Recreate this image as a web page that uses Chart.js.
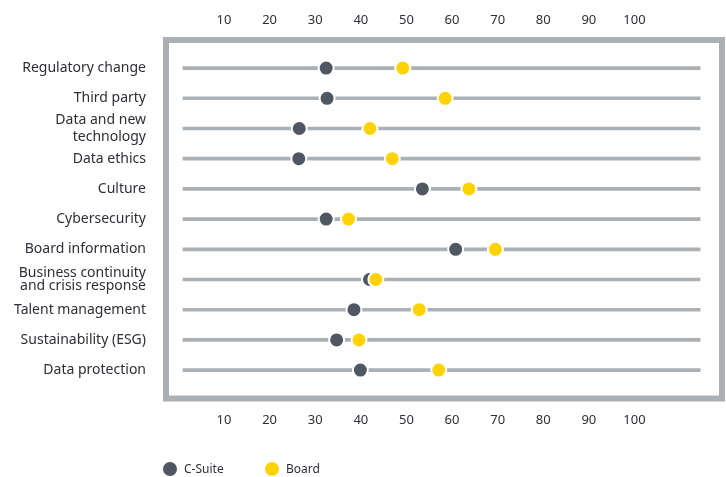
<!DOCTYPE html>
<html>
<head>
<meta charset="utf-8">
<script src="https://cdn.jsdelivr.net/npm/chart.js@4.4.0/dist/chart.umd.min.js"></script>
<style>
  html, body { margin: 0; padding: 0; background: #fff; }
  #wrap { position: relative; width: 726px; height: 477px; }
  .leg { position: absolute; top: 460px; display: flex; align-items: center; font: 12px "Noto Sans", sans-serif; color: #2e2e38; }
  .leg i { display: inline-block; width: 14px; height: 14px; border-radius: 50%; margin-right: 7px; }
</style>
</head>
<body>
<div id="wrap">
  <canvas id="chart"></canvas>
  <div class="leg" style="left:163px"><i style="background:#4f5763"></i>C-Suite</div>
  <div class="leg" style="left:265px"><i style="background:#ffd200"></i>Board</div>
</div>
<script>
const rowLabels = [
  'Regulatory change', 'Third party', ['Data and new', 'technology'], 'Data ethics',
  'Culture', 'Cybersecurity', 'Board information', ['Business continuity', 'and crisis response'],
  'Talent management', 'Sustainability (ESG)', 'Data protection'
];
const cSuite = [32.4, 32.6, 26.5, 26.4, 53.5, 32.4, 60.8, 41.9, 38.5, 34.7, 39.9];
const board  = [49.2, 58.5, 42.0, 46.9, 63.7, 37.3, 69.5, 43.3, 52.8, 39.6, 57.1];
const tickValues = [10, 20, 30, 40, 50, 60, 70, 80, 90, 100];
const trackRange = [1, 114.4];

const textColor = '#2e2e38';
const greyColor = '#abb0b5';

// grey frame around the plot area
const boxPlugin = {
  id: 'box',
  beforeDatasetsDraw(chart) {
    const {ctx, chartArea: a} = chart;
    ctx.save();
    ctx.strokeStyle = greyColor;
    ctx.lineWidth = 6;
    ctx.strokeRect(a.left, a.top, a.right - a.left, a.bottom - a.top);
    ctx.restore();
  }
};

function xAxis(position, height, pad) {
  return {
    type: 'linear',
    position: position,
    bounds: 'data',
    offset: false,
    min: -2.72,
    max: 119.2,
    grid: { display: false, drawTicks: false },
    border: { display: false },
    afterBuildTicks: s => { s.ticks = tickValues.map(v => ({ value: v })); },
    afterFit: s => {
      s.height = height;
      s.paddingLeft = 0;
      s.paddingRight = 0;
    },
    ticks: {
      padding: pad,
      color: textColor,
      autoSkip: false,
      maxRotation: 0,
      font: { family: 'Noto Sans', size: 13 }
    }
  };
}

new Chart(document.getElementById('chart'), {
  type: 'bar',
  data: {
    datasets: [
      {
        label: 'track',
        type: 'bar',
        indexAxis: 'y',
        data: rowLabels.map((_, i) => ({ x: trackRange, y: i })),
        backgroundColor: greyColor,
        barThickness: 3,
        borderWidth: 0,
        order: 3
      },
      {
        label: 'C-Suite',
        type: 'line',
        showLine: false,
        data: cSuite.map((v, i) => ({ x: v, y: i })),
        pointRadius: 7.5,
        pointBackgroundColor: '#4f5763',
        pointBorderColor: '#fff',
        pointBorderWidth: 2,
        order: 2
      },
      {
        label: 'Board',
        type: 'line',
        showLine: false,
        data: board.map((v, i) => ({ x: v, y: i })),
        pointRadius: 7.5,
        pointBackgroundColor: '#ffd200',
        pointBorderColor: '#fff',
        pointBorderWidth: 2,
        order: 1
      }
    ]
  },
  options: {
    indexAxis: 'y',
    responsive: true,
    maintainAspectRatio: false,
    animation: false,
    layout: { autoPadding: false, padding: { left: 0, right: 4, top: 0, bottom: 0 } },
    plugins: { legend: { display: false }, tooltip: { enabled: false } },
    scales: {
      x: xAxis('bottom', 78.5, 14),
      x2: xAxis('top', 40, 12),
      y: {
        type: 'linear',
        bounds: 'data',
        offset: false,
        reverse: true,
        min: -0.93,
        max: 10.94,
        grid: { display: false, drawTicks: false },
        border: { display: false },
        afterBuildTicks: s => { s.ticks = rowLabels.map((_, i) => ({ value: i })); },
        afterFit: s => {
          s.width = 166;
          s.paddingTop = 0;
          s.paddingBottom = 0;
        },
        ticks: {
          padding: 20,
          color: textColor,
          autoSkip: false,
          callback: v => rowLabels[v],
          font: ctx => ({
            family: 'Noto Sans',
            size: 14,
            lineHeight: ctx.index === 7 ? 0.9 : 1.15
          })
        }
      }
    }
  },
  plugins: [boxPlugin]
});
</script>
</body>
</html>
